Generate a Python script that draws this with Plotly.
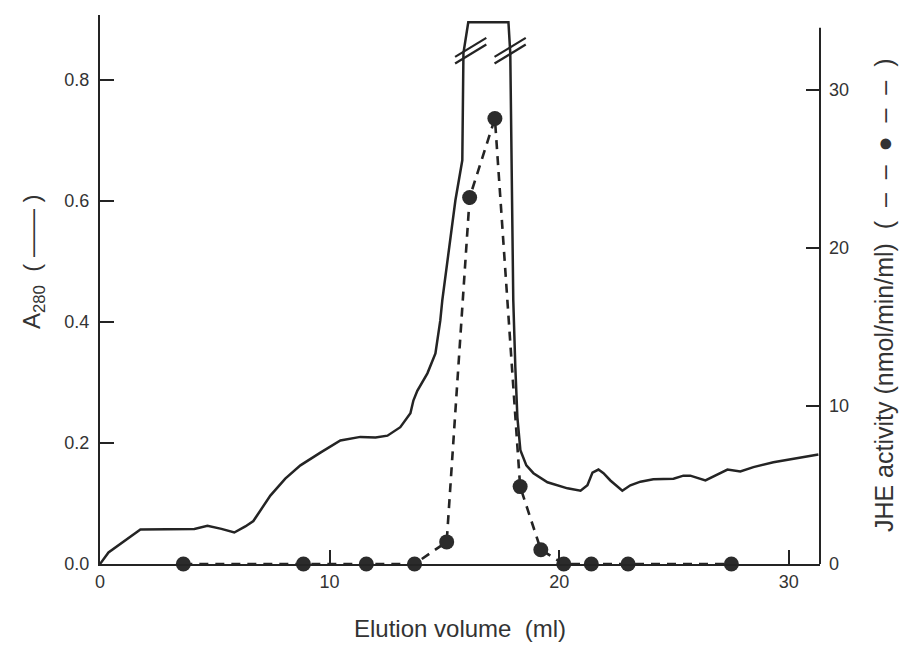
import numpy as np
import plotly.graph_objects as go

# ---- data ----
a280_x = [0.0, 0.37, 1.76, 2.94, 4.11, 4.68, 5.29, 5.85, 6.33, 6.68, 7.42, 8.07, 8.73, 9.60,
          10.47, 11.34, 12.0, 12.52, 13.08, 13.52, 13.65, 13.82, 14.26, 14.61, 14.82, 14.91,
          15.18, 15.48, 15.78, 15.83, 16.04, 17.79, 17.87, 17.92, 17.96, 18.0, 18.09, 18.18,
          18.31, 18.57, 18.88, 19.49, 20.36, 20.93, 21.23, 21.45, 21.71, 21.93, 22.23, 22.75,
          23.10, 23.54, 24.10, 24.98, 25.41, 25.71, 26.37, 27.02, 27.33, 27.89, 28.46, 29.33,
          30.20, 31.29]
a280_y = [0.0, 0.019, 0.057, 0.058, 0.058, 0.063, 0.058, 0.052, 0.062, 0.071, 0.113, 0.141,
          0.163, 0.184, 0.204, 0.210, 0.209, 0.212, 0.226, 0.249, 0.270, 0.286, 0.315, 0.348,
          0.402, 0.436, 0.518, 0.601, 0.667, 0.844, 0.895, 0.895, 0.844, 0.667, 0.518, 0.436,
          0.325, 0.242, 0.188, 0.163, 0.150, 0.135, 0.125, 0.121, 0.130, 0.151, 0.156, 0.150,
          0.138, 0.121, 0.130, 0.136, 0.140, 0.141, 0.146, 0.146, 0.138, 0.151, 0.156, 0.153,
          0.160, 0.168, 0.174, 0.181]

jhe_x = [3.63, 8.86, 11.6, 13.7, 15.1, 16.1, 17.2, 18.3, 19.2, 20.2, 21.4, 23.0, 27.5]
jhe_y = [0.0, 0.0, 0.0, 0.0, 1.4, 23.2, 28.2, 4.9, 0.9, 0.0, 0.0, 0.0, 0.0]

x_ticks = [0, 10, 20, 30]
y_ticks = [0.0, 0.2, 0.4, 0.6, 0.8]
y2_ticks = [0, 10, 20, 30]

X_RANGE = [0, 31.36]
Y_RANGE = [0, 0.907]
Y2_RANGE = [0, 34.75]
BREAK_Y = 0.848

INK = "#242424"
TXT = "#333333"
FONT = "Liberation Sans, Arial, sans-serif"
NB = "\u00a0"

fig = go.Figure()
fig.add_trace(go.Scatter(x=a280_x, y=a280_y, mode="lines",
                         line=dict(color=INK, width=2.5), showlegend=False,
                         cliponaxis=False))
fig.add_trace(go.Scatter(x=jhe_x, y=jhe_y, mode="lines+markers", yaxis="y2",
                         line=dict(color=INK, width=2.6, dash="9px,7px"),
                         marker=dict(size=15, color="#2b2b2b"),
                         showlegend=False, cliponaxis=False))

# break marks on the clipped peak
ax = np.array(a280_x)
ay = np.array(a280_y)
top = int(np.argmax(ay))
left_x = float(np.interp(BREAK_Y, ay[:top + 1], ax[:top + 1]))
right_x = float(np.interp(BREAK_Y, ay[top + 1:][::-1], ax[top + 1:][::-1]))
dx, dy, off = 0.68, 0.0157, 0.0055
for cx in (left_x + 0.3, right_x):
    for o in (off, -off):
        fig.add_shape(type="line", xref="x", yref="y",
                      x0=cx - dx, y0=BREAK_Y + o - dy, x1=cx + dx, y1=BREAK_Y + o + dy,
                      line=dict(color=INK, width=2.2))

# right axis line (shorter than the left one)
fig.add_shape(type="line", xref="paper", yref="paper", x0=1, x1=1, y0=0, y1=0.977,
              line=dict(color=INK, width=2))

axis_common = dict(showgrid=False, zeroline=False, ticks="inside", ticklen=14,
                   tickwidth=2, tickcolor=INK,
                   tickfont=dict(family=FONT, size=18, color=TXT))

x_title = "Elution volume" + NB * 2 + "(ml)"
y_title = "A<sub>280</sub>" + NB * 2 + "(" + NB + "——" + NB + ")"
y2_title = ("JHE activity (nmol/min/ml)" + NB * 2 + "(" + NB * 2 + "–" + NB * 2 + "–"
            + NB * 2 + "●" + NB * 2 + "–" + NB * 2 + "–" + NB * 2 + ")")

fig.update_layout(
    width=904, height=645,
    margin=dict(l=100, r=84, t=15, b=81),
    paper_bgcolor="white", plot_bgcolor="white",
    xaxis=dict(range=X_RANGE, tickvals=x_ticks, showline=True, linecolor=INK, linewidth=2,
               ticklabelstandoff=0, **axis_common),
    yaxis=dict(range=Y_RANGE, tickvals=y_ticks, tickformat=".1f", showline=True,
               linecolor=INK, linewidth=2, ticklabelstandoff=5, **axis_common),
    yaxis2=dict(range=Y2_RANGE, tickvals=y2_ticks, overlaying="y", side="right",
                anchor="x", showline=False, ticklabelstandoff=8, **axis_common),
    annotations=[
        dict(text=x_title, xref="paper", yref="paper", x=0.5, y=-0.1166,
             xanchor="center", yanchor="middle", showarrow=False,
             font=dict(family=FONT, size=24, color=TXT)),
        dict(text=y_title, xref="paper", yref="paper", x=-0.093, y=0.55,
             xanchor="center", yanchor="middle", textangle=-90, showarrow=False,
             font=dict(family=FONT, size=24, color=TXT)),
        dict(text=y2_title, xref="paper", yref="paper", x=1.089, y=0.49,
             xanchor="center", yanchor="middle", textangle=-90, showarrow=False,
             font=dict(family=FONT, size=25, color=TXT)),
    ],
)

fig.write_html("out.html")
